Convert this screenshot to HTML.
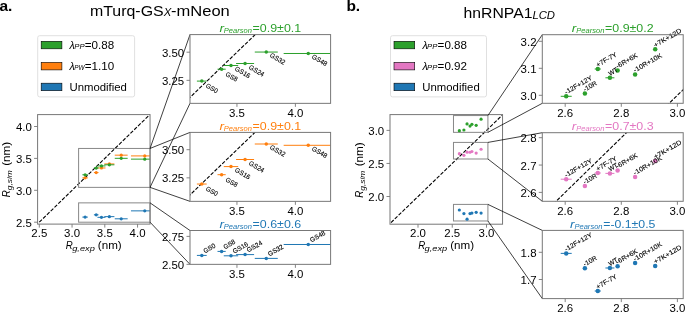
<!DOCTYPE html>
<html><head><meta charset="utf-8"><style>
html,body{margin:0;padding:0;background:#fff;width:685px;height:312px;overflow:hidden;}
svg{display:block;will-change:transform;}
text{font-family:"Liberation Sans", sans-serif;}
</style></head><body>
<svg width="685" height="312" viewBox="0 0 685 312">
<rect width="685" height="312" fill="#fff"/>
<text x="-0.60" y="10.90" font-size="15.50" fill="#000" font-weight="bold">a.</text>
<text x="90.00" y="15.80" font-size="14.50" fill="#000" textLength="73.60" lengthAdjust="spacingAndGlyphs">mTurq-GS</text>
<text x="163.80" y="16.40" font-size="10.00" fill="#000" textLength="7.60" lengthAdjust="spacingAndGlyphs" font-style="italic">X</text>
<text x="171.00" y="15.80" font-size="14.50" fill="#000" textLength="58.80" lengthAdjust="spacingAndGlyphs">-mNeon</text>
<rect x="37.70" y="35.70" width="96.90" height="61.20" stroke="#e0e0e0" stroke-width="1" fill="#fff" rx="2"/>
<rect x="41.20" y="41.30" width="20.70" height="7.50" stroke="#000" stroke-width="0.6" fill="#2ca02c" rx="0"/>
<text x="69.60" y="48.70" font-size="10.00" fill="#000" textLength="5.20" lengthAdjust="spacingAndGlyphs" font-style="italic">λ</text>
<text x="74.30" y="49.20" font-size="7.40" fill="#000" textLength="10.30" lengthAdjust="spacingAndGlyphs" font-style="italic">PP</text>
<text x="84.80" y="48.70" font-size="10.20" fill="#000" textLength="29.40" lengthAdjust="spacingAndGlyphs">=0.88</text>
<rect x="41.20" y="62.40" width="20.70" height="7.50" stroke="#000" stroke-width="0.6" fill="#ff7f0e" rx="0"/>
<text x="69.60" y="69.80" font-size="10.00" fill="#000" textLength="5.20" lengthAdjust="spacingAndGlyphs" font-style="italic">λ</text>
<text x="74.30" y="70.30" font-size="7.40" fill="#000" textLength="10.30" lengthAdjust="spacingAndGlyphs" font-style="italic">PW</text>
<text x="84.80" y="69.80" font-size="10.20" fill="#000" textLength="29.40" lengthAdjust="spacingAndGlyphs">=1.10</text>
<rect x="41.20" y="83.20" width="20.70" height="7.50" stroke="#000" stroke-width="0.6" fill="#1f77b4" rx="0"/>
<text x="69.50" y="90.60" font-size="10.00" fill="#000" textLength="57.44" lengthAdjust="spacingAndGlyphs">Unmodified</text>
<clipPath id="cma"><rect x="37.60" y="114.60" width="112.45" height="109.50"/></clipPath>
<g clip-path="url(#cma)">
<line x1="39.30" y1="222.20" x2="153.93" y2="110.55" stroke="#000" stroke-width="1.1" stroke-dasharray="3.7 1.6" stroke-linecap="butt"/>
</g>
<rect x="78.60" y="148.45" width="71.45" height="38.92" stroke="#888" stroke-width="1" fill="none" rx="0"/>
<rect x="78.60" y="202.87" width="71.45" height="19.33" stroke="#888" stroke-width="1" fill="none" rx="0"/>
<clipPath id="cma2"><rect x="37.60" y="114.60" width="112.45" height="109.50"/></clipPath>
<g clip-path="url(#cma2)">
<line x1="82.36" y1="177.86" x2="87.85" y2="177.86" stroke="#ff7f0e" stroke-width="1.0" stroke-linecap="butt"/>
<circle cx="85.10" cy="177.86" r="1.6" fill="#ff7f0e"/>
<line x1="93.90" y1="172.56" x2="98.50" y2="172.56" stroke="#ff7f0e" stroke-width="1.0" stroke-linecap="butt"/>
<circle cx="96.20" cy="172.56" r="1.6" fill="#ff7f0e"/>
<line x1="97.43" y1="167.97" x2="105.49" y2="167.97" stroke="#ff7f0e" stroke-width="1.0" stroke-linecap="butt"/>
<circle cx="101.46" cy="167.97" r="1.6" fill="#ff7f0e"/>
<line x1="104.32" y1="163.95" x2="114.40" y2="163.95" stroke="#ff7f0e" stroke-width="1.0" stroke-linecap="butt"/>
<circle cx="109.36" cy="163.95" r="1.6" fill="#ff7f0e"/>
<line x1="114.78" y1="155.17" x2="127.67" y2="155.17" stroke="#ff7f0e" stroke-width="1.0" stroke-linecap="butt"/>
<circle cx="121.23" cy="155.17" r="1.6" fill="#ff7f0e"/>
<line x1="130.98" y1="155.91" x2="158.55" y2="155.91" stroke="#ff7f0e" stroke-width="1.0" stroke-linecap="butt"/>
<circle cx="144.76" cy="155.91" r="1.6" fill="#ff7f0e"/>
<line x1="82.36" y1="174.78" x2="87.85" y2="174.78" stroke="#2ca02c" stroke-width="1.0" stroke-linecap="butt"/>
<circle cx="85.10" cy="174.78" r="1.6" fill="#2ca02c"/>
<line x1="93.90" y1="168.03" x2="98.50" y2="168.03" stroke="#2ca02c" stroke-width="1.0" stroke-linecap="butt"/>
<circle cx="96.20" cy="168.03" r="1.6" fill="#2ca02c"/>
<line x1="97.43" y1="165.93" x2="105.49" y2="165.93" stroke="#2ca02c" stroke-width="1.0" stroke-linecap="butt"/>
<circle cx="101.46" cy="165.93" r="1.6" fill="#2ca02c"/>
<line x1="104.32" y1="164.81" x2="114.40" y2="164.81" stroke="#2ca02c" stroke-width="1.0" stroke-linecap="butt"/>
<circle cx="109.36" cy="164.81" r="1.6" fill="#2ca02c"/>
<line x1="114.78" y1="158.32" x2="127.67" y2="158.32" stroke="#2ca02c" stroke-width="1.0" stroke-linecap="butt"/>
<circle cx="121.23" cy="158.32" r="1.6" fill="#2ca02c"/>
<line x1="130.98" y1="159.13" x2="158.55" y2="159.13" stroke="#2ca02c" stroke-width="1.0" stroke-linecap="butt"/>
<circle cx="144.76" cy="159.13" r="1.6" fill="#2ca02c"/>
<line x1="82.36" y1="217.10" x2="87.85" y2="217.10" stroke="#1f77b4" stroke-width="1.0" stroke-linecap="butt"/>
<circle cx="85.10" cy="217.10" r="1.6" fill="#1f77b4"/>
<line x1="93.90" y1="214.81" x2="98.50" y2="214.81" stroke="#1f77b4" stroke-width="1.0" stroke-linecap="butt"/>
<circle cx="96.20" cy="214.81" r="1.6" fill="#1f77b4"/>
<line x1="97.43" y1="217.32" x2="105.49" y2="217.32" stroke="#1f77b4" stroke-width="1.0" stroke-linecap="butt"/>
<circle cx="101.46" cy="217.32" r="1.6" fill="#1f77b4"/>
<line x1="104.32" y1="216.64" x2="114.40" y2="216.64" stroke="#1f77b4" stroke-width="1.0" stroke-linecap="butt"/>
<circle cx="109.36" cy="216.64" r="1.6" fill="#1f77b4"/>
<line x1="114.78" y1="218.81" x2="127.67" y2="218.81" stroke="#1f77b4" stroke-width="1.0" stroke-linecap="butt"/>
<circle cx="121.23" cy="218.81" r="1.6" fill="#1f77b4"/>
<line x1="130.98" y1="210.87" x2="158.55" y2="210.87" stroke="#1f77b4" stroke-width="1.0" stroke-linecap="butt"/>
<circle cx="144.76" cy="210.87" r="1.6" fill="#1f77b4"/>
</g>
<rect x="37.60" y="114.60" width="112.45" height="109.50" stroke="#777" stroke-width="1.0" fill="none" rx="0"/>
<line x1="39.30" y1="224.10" x2="39.30" y2="227.60" stroke="#777" stroke-width="0.9" stroke-linecap="butt"/>
<text x="39.30" y="237.00" font-size="10.00" fill="#000" textLength="15.90" lengthAdjust="spacingAndGlyphs" text-anchor="middle">2.5</text>
<line x1="34.10" y1="222.20" x2="37.60" y2="222.20" stroke="#777" stroke-width="0.9" stroke-linecap="butt"/>
<text x="31.80" y="226.70" font-size="10.00" fill="#000" textLength="15.90" lengthAdjust="spacingAndGlyphs" text-anchor="end">2.5</text>
<line x1="72.05" y1="224.10" x2="72.05" y2="227.60" stroke="#777" stroke-width="0.9" stroke-linecap="butt"/>
<text x="72.05" y="237.00" font-size="10.00" fill="#000" textLength="15.90" lengthAdjust="spacingAndGlyphs" text-anchor="middle">3.0</text>
<line x1="34.10" y1="190.30" x2="37.60" y2="190.30" stroke="#777" stroke-width="0.9" stroke-linecap="butt"/>
<text x="31.80" y="194.80" font-size="10.00" fill="#000" textLength="15.90" lengthAdjust="spacingAndGlyphs" text-anchor="end">3.0</text>
<line x1="104.80" y1="224.10" x2="104.80" y2="227.60" stroke="#777" stroke-width="0.9" stroke-linecap="butt"/>
<text x="104.80" y="237.00" font-size="10.00" fill="#000" textLength="15.90" lengthAdjust="spacingAndGlyphs" text-anchor="middle">3.5</text>
<line x1="34.10" y1="158.40" x2="37.60" y2="158.40" stroke="#777" stroke-width="0.9" stroke-linecap="butt"/>
<text x="31.80" y="162.90" font-size="10.00" fill="#000" textLength="15.90" lengthAdjust="spacingAndGlyphs" text-anchor="end">3.5</text>
<line x1="137.55" y1="224.10" x2="137.55" y2="227.60" stroke="#777" stroke-width="0.9" stroke-linecap="butt"/>
<text x="137.55" y="237.00" font-size="10.00" fill="#000" textLength="15.90" lengthAdjust="spacingAndGlyphs" text-anchor="middle">4.0</text>
<line x1="34.10" y1="126.50" x2="37.60" y2="126.50" stroke="#777" stroke-width="0.9" stroke-linecap="butt"/>
<text x="31.80" y="131.00" font-size="10.00" fill="#000" textLength="15.90" lengthAdjust="spacingAndGlyphs" text-anchor="end">4.0</text>
<text x="65.80" y="248.60" font-size="10.00" fill="#000" textLength="7.00" lengthAdjust="spacingAndGlyphs" font-style="italic">R</text>
<text x="72.20" y="250.60" font-size="7.40" fill="#000" textLength="22.60" lengthAdjust="spacingAndGlyphs" font-style="italic">g,exp</text>
<text x="97.80" y="248.60" font-size="10.00" fill="#000" textLength="23.90" lengthAdjust="spacingAndGlyphs">(nm)</text>
<g transform="translate(10.30,197.30) rotate(-90)">
<text x="0.00" y="0.00" font-size="10.00" fill="#000" textLength="7.00" lengthAdjust="spacingAndGlyphs" font-style="italic">R</text>
<text x="7.00" y="2.00" font-size="7.40" fill="#000" textLength="20.20" lengthAdjust="spacingAndGlyphs" font-style="italic">g,sim</text>
<text x="31.50" y="0.00" font-size="10.00" fill="#000" textLength="23.90" lengthAdjust="spacingAndGlyphs">(nm)</text>
</g>
<line x1="150.05" y1="148.45" x2="190.00" y2="34.60" stroke="#000" stroke-width="0.75" stroke-linecap="butt"/>
<line x1="150.05" y1="187.37" x2="190.00" y2="103.35" stroke="#000" stroke-width="0.75" stroke-linecap="butt"/>
<line x1="150.05" y1="148.45" x2="190.00" y2="132.40" stroke="#000" stroke-width="0.75" stroke-linecap="butt"/>
<line x1="150.05" y1="187.37" x2="190.00" y2="201.35" stroke="#000" stroke-width="0.75" stroke-linecap="butt"/>
<line x1="150.05" y1="202.87" x2="190.00" y2="230.50" stroke="#000" stroke-width="0.75" stroke-linecap="butt"/>
<line x1="150.05" y1="222.20" x2="190.00" y2="264.35" stroke="#000" stroke-width="0.75" stroke-linecap="butt"/>
<rect x="190.00" y="34.60" width="140.60" height="68.75" stroke="none" stroke-width="1" fill="#fff" rx="0"/>
<clipPath id="ca1"><rect x="190.00" y="34.60" width="140.60" height="68.75"/></clipPath>
<g clip-path="url(#ca1)">
<line x1="187.85" y1="99.49" x2="257.56" y2="32.35" stroke="#000" stroke-width="1.1" stroke-dasharray="3.7 1.6" stroke-linecap="butt"/>
<line x1="196.90" y1="81.10" x2="206.70" y2="81.10" stroke="#2ca02c" stroke-width="1.0" stroke-linecap="butt"/>
<circle cx="201.80" cy="81.10" r="1.75" fill="#2ca02c"/>
<line x1="217.50" y1="69.20" x2="225.70" y2="69.20" stroke="#2ca02c" stroke-width="1.0" stroke-linecap="butt"/>
<circle cx="221.60" cy="69.20" r="1.75" fill="#2ca02c"/>
<line x1="223.79" y1="65.50" x2="238.19" y2="65.50" stroke="#2ca02c" stroke-width="1.0" stroke-linecap="butt"/>
<circle cx="230.99" cy="65.50" r="1.75" fill="#2ca02c"/>
<line x1="236.09" y1="63.51" x2="254.09" y2="63.51" stroke="#2ca02c" stroke-width="1.0" stroke-linecap="butt"/>
<circle cx="245.09" cy="63.51" r="1.75" fill="#2ca02c"/>
<line x1="254.77" y1="52.05" x2="277.77" y2="52.05" stroke="#2ca02c" stroke-width="1.0" stroke-linecap="butt"/>
<circle cx="266.27" cy="52.05" r="1.75" fill="#2ca02c"/>
<line x1="283.67" y1="53.49" x2="332.87" y2="53.49" stroke="#2ca02c" stroke-width="1.0" stroke-linecap="butt"/>
<circle cx="308.27" cy="53.49" r="1.75" fill="#2ca02c"/>
</g>
<text x="205.30" y="87.10" font-size="6.60" fill="#000" stroke="#000" stroke-width="0.12" textLength="12.68" lengthAdjust="spacingAndGlyphs" transform="rotate(30 205.30 87.10)">GS0</text>
<text x="225.00" y="75.50" font-size="6.60" fill="#000" stroke="#000" stroke-width="0.12" textLength="12.68" lengthAdjust="spacingAndGlyphs" transform="rotate(30 225.00 75.50)">GS8</text>
<text x="234.29" y="70.10" font-size="6.60" fill="#000" stroke="#000" stroke-width="0.12" textLength="16.63" lengthAdjust="spacingAndGlyphs" transform="rotate(30 234.29 70.10)">GS16</text>
<text x="248.29" y="68.46" font-size="6.60" fill="#000" stroke="#000" stroke-width="0.12" textLength="16.63" lengthAdjust="spacingAndGlyphs" transform="rotate(30 248.29 68.46)">GS24</text>
<text x="269.37" y="56.50" font-size="6.60" fill="#000" stroke="#000" stroke-width="0.12" textLength="16.63" lengthAdjust="spacingAndGlyphs" transform="rotate(30 269.37 56.50)">GS32</text>
<text x="311.27" y="58.09" font-size="6.60" fill="#000" stroke="#000" stroke-width="0.12" textLength="16.63" lengthAdjust="spacingAndGlyphs" transform="rotate(30 311.27 58.09)">GS48</text>
<rect x="190.00" y="34.60" width="140.60" height="68.75" stroke="#777" stroke-width="1.0" fill="none" rx="0"/>
<line x1="236.95" y1="103.35" x2="236.95" y2="106.85" stroke="#777" stroke-width="0.9" stroke-linecap="butt"/>
<text x="236.95" y="117.15" font-size="10.00" fill="#000" textLength="15.90" lengthAdjust="spacingAndGlyphs" text-anchor="middle">3.5</text>
<line x1="295.40" y1="103.35" x2="295.40" y2="106.85" stroke="#777" stroke-width="0.9" stroke-linecap="butt"/>
<text x="295.40" y="117.15" font-size="10.00" fill="#000" textLength="15.90" lengthAdjust="spacingAndGlyphs" text-anchor="middle">4.0</text>
<line x1="186.50" y1="52.20" x2="190.00" y2="52.20" stroke="#777" stroke-width="0.9" stroke-linecap="butt"/>
<text x="184.20" y="56.70" font-size="10.00" fill="#000" textLength="22.27" lengthAdjust="spacingAndGlyphs" text-anchor="end">3.50</text>
<line x1="186.50" y1="80.35" x2="190.00" y2="80.35" stroke="#777" stroke-width="0.9" stroke-linecap="butt"/>
<text x="184.20" y="84.85" font-size="10.00" fill="#000" textLength="22.27" lengthAdjust="spacingAndGlyphs" text-anchor="end">3.25</text>
<text x="219.42" y="31.70" font-size="10.00" fill="#2ca02c" textLength="4.60" lengthAdjust="spacingAndGlyphs" font-style="italic">r</text>
<text x="223.82" y="32.90" font-size="7.40" fill="#2ca02c" textLength="28.10" lengthAdjust="spacingAndGlyphs" font-style="italic">Pearson</text>
<text x="252.62" y="31.70" font-size="10.00" fill="#2ca02c" textLength="48.56" lengthAdjust="spacingAndGlyphs">=0.9±0.1</text>
<rect x="190.00" y="132.40" width="140.60" height="68.95" stroke="none" stroke-width="1" fill="#fff" rx="0"/>
<clipPath id="ca2"><rect x="190.00" y="132.40" width="140.60" height="68.95"/></clipPath>
<g clip-path="url(#ca2)">
<line x1="187.85" y1="196.99" x2="257.25" y2="130.15" stroke="#000" stroke-width="1.1" stroke-dasharray="3.7 1.6" stroke-linecap="butt"/>
<line x1="196.90" y1="184.04" x2="206.70" y2="184.04" stroke="#ff7f0e" stroke-width="1.0" stroke-linecap="butt"/>
<circle cx="201.80" cy="184.04" r="1.75" fill="#ff7f0e"/>
<line x1="217.50" y1="174.70" x2="225.70" y2="174.70" stroke="#ff7f0e" stroke-width="1.0" stroke-linecap="butt"/>
<circle cx="221.60" cy="174.70" r="1.75" fill="#ff7f0e"/>
<line x1="223.79" y1="166.59" x2="238.19" y2="166.59" stroke="#ff7f0e" stroke-width="1.0" stroke-linecap="butt"/>
<circle cx="230.99" cy="166.59" r="1.75" fill="#ff7f0e"/>
<line x1="236.09" y1="159.50" x2="254.09" y2="159.50" stroke="#ff7f0e" stroke-width="1.0" stroke-linecap="butt"/>
<circle cx="245.09" cy="159.50" r="1.75" fill="#ff7f0e"/>
<line x1="254.77" y1="144.00" x2="277.77" y2="144.00" stroke="#ff7f0e" stroke-width="1.0" stroke-linecap="butt"/>
<circle cx="266.27" cy="144.00" r="1.75" fill="#ff7f0e"/>
<line x1="283.67" y1="145.31" x2="332.87" y2="145.31" stroke="#ff7f0e" stroke-width="1.0" stroke-linecap="butt"/>
<circle cx="308.27" cy="145.31" r="1.75" fill="#ff7f0e"/>
</g>
<text x="205.30" y="190.04" font-size="6.60" fill="#000" stroke="#000" stroke-width="0.12" textLength="12.68" lengthAdjust="spacingAndGlyphs" transform="rotate(30 205.30 190.04)">GS0</text>
<text x="225.00" y="181.00" font-size="6.60" fill="#000" stroke="#000" stroke-width="0.12" textLength="12.68" lengthAdjust="spacingAndGlyphs" transform="rotate(30 225.00 181.00)">GS8</text>
<text x="234.29" y="171.19" font-size="6.60" fill="#000" stroke="#000" stroke-width="0.12" textLength="16.63" lengthAdjust="spacingAndGlyphs" transform="rotate(30 234.29 171.19)">GS16</text>
<text x="248.29" y="164.45" font-size="6.60" fill="#000" stroke="#000" stroke-width="0.12" textLength="16.63" lengthAdjust="spacingAndGlyphs" transform="rotate(30 248.29 164.45)">GS24</text>
<text x="269.37" y="148.45" font-size="6.60" fill="#000" stroke="#000" stroke-width="0.12" textLength="16.63" lengthAdjust="spacingAndGlyphs" transform="rotate(30 269.37 148.45)">GS32</text>
<text x="311.27" y="149.91" font-size="6.60" fill="#000" stroke="#000" stroke-width="0.12" textLength="16.63" lengthAdjust="spacingAndGlyphs" transform="rotate(30 311.27 149.91)">GS48</text>
<rect x="190.00" y="132.40" width="140.60" height="68.95" stroke="#777" stroke-width="1.0" fill="none" rx="0"/>
<line x1="236.95" y1="201.35" x2="236.95" y2="204.85" stroke="#777" stroke-width="0.9" stroke-linecap="butt"/>
<text x="236.95" y="215.15" font-size="10.00" fill="#000" textLength="15.90" lengthAdjust="spacingAndGlyphs" text-anchor="middle">3.5</text>
<line x1="295.40" y1="201.35" x2="295.40" y2="204.85" stroke="#777" stroke-width="0.9" stroke-linecap="butt"/>
<text x="295.40" y="215.15" font-size="10.00" fill="#000" textLength="15.90" lengthAdjust="spacingAndGlyphs" text-anchor="middle">4.0</text>
<line x1="186.50" y1="149.70" x2="190.00" y2="149.70" stroke="#777" stroke-width="0.9" stroke-linecap="butt"/>
<text x="184.20" y="154.20" font-size="10.00" fill="#000" textLength="22.27" lengthAdjust="spacingAndGlyphs" text-anchor="end">3.50</text>
<line x1="186.50" y1="177.85" x2="190.00" y2="177.85" stroke="#777" stroke-width="0.9" stroke-linecap="butt"/>
<text x="184.20" y="182.35" font-size="10.00" fill="#000" textLength="22.27" lengthAdjust="spacingAndGlyphs" text-anchor="end">3.25</text>
<text x="219.42" y="129.50" font-size="10.00" fill="#ff7f0e" textLength="4.60" lengthAdjust="spacingAndGlyphs" font-style="italic">r</text>
<text x="223.82" y="130.70" font-size="7.40" fill="#ff7f0e" textLength="28.10" lengthAdjust="spacingAndGlyphs" font-style="italic">Pearson</text>
<text x="252.62" y="129.50" font-size="10.00" fill="#ff7f0e" textLength="48.56" lengthAdjust="spacingAndGlyphs">=0.9±0.1</text>
<rect x="190.00" y="230.50" width="140.60" height="33.85" stroke="none" stroke-width="1" fill="#fff" rx="0"/>
<clipPath id="ca3"><rect x="190.00" y="230.50" width="140.60" height="33.85"/></clipPath>
<g clip-path="url(#ca3)">
<line x1="187.85" y1="199.51" x2="157.78" y2="228.26" stroke="#000" stroke-width="1.1" stroke-dasharray="3.7 1.6" stroke-linecap="butt"/>
<line x1="196.90" y1="255.41" x2="206.70" y2="255.41" stroke="#1f77b4" stroke-width="1.0" stroke-linecap="butt"/>
<circle cx="201.80" cy="255.41" r="1.75" fill="#1f77b4"/>
<line x1="217.50" y1="251.40" x2="225.70" y2="251.40" stroke="#1f77b4" stroke-width="1.0" stroke-linecap="butt"/>
<circle cx="221.60" cy="251.40" r="1.75" fill="#1f77b4"/>
<line x1="223.79" y1="255.80" x2="238.19" y2="255.80" stroke="#1f77b4" stroke-width="1.0" stroke-linecap="butt"/>
<circle cx="230.99" cy="255.80" r="1.75" fill="#1f77b4"/>
<line x1="236.09" y1="254.60" x2="254.09" y2="254.60" stroke="#1f77b4" stroke-width="1.0" stroke-linecap="butt"/>
<circle cx="245.09" cy="254.60" r="1.75" fill="#1f77b4"/>
<line x1="254.77" y1="258.40" x2="277.77" y2="258.40" stroke="#1f77b4" stroke-width="1.0" stroke-linecap="butt"/>
<circle cx="266.27" cy="258.40" r="1.75" fill="#1f77b4"/>
<line x1="283.67" y1="244.49" x2="332.87" y2="244.49" stroke="#1f77b4" stroke-width="1.0" stroke-linecap="butt"/>
<circle cx="308.27" cy="244.49" r="1.75" fill="#1f77b4"/>
</g>
<text x="205.10" y="253.41" font-size="6.60" fill="#000" stroke="#000" stroke-width="0.12" textLength="12.68" lengthAdjust="spacingAndGlyphs" transform="rotate(-30 205.10 253.41)">GS0</text>
<text x="224.90" y="249.40" font-size="6.60" fill="#000" stroke="#000" stroke-width="0.12" textLength="12.68" lengthAdjust="spacingAndGlyphs" transform="rotate(-30 224.90 249.40)">GS8</text>
<text x="234.29" y="253.80" font-size="6.60" fill="#000" stroke="#000" stroke-width="0.12" textLength="16.63" lengthAdjust="spacingAndGlyphs" transform="rotate(-30 234.29 253.80)">GS16</text>
<text x="248.39" y="252.60" font-size="6.60" fill="#000" stroke="#000" stroke-width="0.12" textLength="16.63" lengthAdjust="spacingAndGlyphs" transform="rotate(-30 248.39 252.60)">GS24</text>
<text x="269.57" y="256.40" font-size="6.60" fill="#000" stroke="#000" stroke-width="0.12" textLength="16.63" lengthAdjust="spacingAndGlyphs" transform="rotate(-30 269.57 256.40)">GS32</text>
<text x="311.57" y="242.49" font-size="6.60" fill="#000" stroke="#000" stroke-width="0.12" textLength="16.63" lengthAdjust="spacingAndGlyphs" transform="rotate(-30 311.57 242.49)">GS48</text>
<rect x="190.00" y="230.50" width="140.60" height="33.85" stroke="#777" stroke-width="1.0" fill="none" rx="0"/>
<line x1="236.95" y1="264.35" x2="236.95" y2="267.85" stroke="#777" stroke-width="0.9" stroke-linecap="butt"/>
<text x="236.95" y="278.15" font-size="10.00" fill="#000" textLength="15.90" lengthAdjust="spacingAndGlyphs" text-anchor="middle">3.5</text>
<line x1="295.40" y1="264.35" x2="295.40" y2="267.85" stroke="#777" stroke-width="0.9" stroke-linecap="butt"/>
<text x="295.40" y="278.15" font-size="10.00" fill="#000" textLength="15.90" lengthAdjust="spacingAndGlyphs" text-anchor="middle">4.0</text>
<line x1="186.50" y1="236.40" x2="190.00" y2="236.40" stroke="#777" stroke-width="0.9" stroke-linecap="butt"/>
<text x="184.20" y="240.90" font-size="10.00" fill="#000" textLength="22.27" lengthAdjust="spacingAndGlyphs" text-anchor="end">2.75</text>
<line x1="186.50" y1="264.35" x2="190.00" y2="264.35" stroke="#777" stroke-width="0.9" stroke-linecap="butt"/>
<text x="184.20" y="268.85" font-size="10.00" fill="#000" textLength="22.27" lengthAdjust="spacingAndGlyphs" text-anchor="end">2.50</text>
<text x="219.42" y="227.60" font-size="10.00" fill="#1f77b4" textLength="4.60" lengthAdjust="spacingAndGlyphs" font-style="italic">r</text>
<text x="223.82" y="228.80" font-size="7.40" fill="#1f77b4" textLength="28.10" lengthAdjust="spacingAndGlyphs" font-style="italic">Pearson</text>
<text x="252.62" y="227.60" font-size="10.00" fill="#1f77b4" textLength="48.56" lengthAdjust="spacingAndGlyphs">=0.6±0.6</text>
<text x="346.40" y="10.90" font-size="15.50" fill="#000" font-weight="bold">b.</text>
<text x="463.60" y="17.80" font-size="14.50" fill="#000" textLength="68.80" lengthAdjust="spacingAndGlyphs">hnRNPA1</text>
<text x="532.40" y="19.20" font-size="10.20" fill="#000" textLength="22.60" lengthAdjust="spacingAndGlyphs" font-style="italic">LCD</text>
<rect x="390.50" y="35.70" width="96.00" height="61.20" stroke="#e0e0e0" stroke-width="1" fill="#fff" rx="2"/>
<rect x="394.00" y="41.30" width="20.70" height="7.50" stroke="#000" stroke-width="0.6" fill="#2ca02c" rx="0"/>
<text x="422.40" y="48.70" font-size="10.00" fill="#000" textLength="5.20" lengthAdjust="spacingAndGlyphs" font-style="italic">λ</text>
<text x="427.10" y="49.20" font-size="7.40" fill="#000" textLength="10.30" lengthAdjust="spacingAndGlyphs" font-style="italic">PP</text>
<text x="437.60" y="48.70" font-size="10.20" fill="#000" textLength="29.40" lengthAdjust="spacingAndGlyphs">=0.88</text>
<rect x="394.00" y="62.40" width="20.70" height="7.50" stroke="#000" stroke-width="0.6" fill="#e377c2" rx="0"/>
<text x="422.40" y="69.80" font-size="10.00" fill="#000" textLength="5.20" lengthAdjust="spacingAndGlyphs" font-style="italic">λ</text>
<text x="427.10" y="70.30" font-size="7.40" fill="#000" textLength="10.30" lengthAdjust="spacingAndGlyphs" font-style="italic">PP</text>
<text x="437.60" y="69.80" font-size="10.20" fill="#000" textLength="29.40" lengthAdjust="spacingAndGlyphs">=0.92</text>
<rect x="394.00" y="83.20" width="20.70" height="7.50" stroke="#000" stroke-width="0.6" fill="#1f77b4" rx="0"/>
<text x="422.30" y="90.60" font-size="10.00" fill="#000" textLength="57.44" lengthAdjust="spacingAndGlyphs">Unmodified</text>
<clipPath id="cmb"><rect x="390.00" y="114.60" width="112.55" height="109.60"/></clipPath>
<g clip-path="url(#cmb)">
<line x1="387.18" y1="226.25" x2="507.05" y2="110.57" stroke="#000" stroke-width="1.1" stroke-dasharray="3.7 1.6" stroke-linecap="butt"/>
</g>
<rect x="453.48" y="115.56" width="34.43" height="16.79" stroke="#888" stroke-width="1" fill="none" rx="0"/>
<rect x="453.48" y="142.41" width="34.43" height="16.58" stroke="#888" stroke-width="1" fill="none" rx="0"/>
<rect x="453.48" y="204.40" width="34.43" height="16.57" stroke="#888" stroke-width="1" fill="none" rx="0"/>
<circle cx="459.35" cy="130.64" r="1.6" fill="#2ca02c"/>
<circle cx="463.91" cy="129.98" r="1.6" fill="#2ca02c"/>
<circle cx="467.06" cy="123.96" r="1.6" fill="#2ca02c"/>
<circle cx="470.02" cy="126.12" r="1.6" fill="#2ca02c"/>
<circle cx="471.90" cy="124.31" r="1.6" fill="#2ca02c"/>
<circle cx="476.17" cy="125.28" r="1.6" fill="#2ca02c"/>
<circle cx="481.08" cy="119.14" r="1.6" fill="#2ca02c"/>
<circle cx="459.35" cy="153.65" r="1.6" fill="#e377c2"/>
<circle cx="463.91" cy="155.32" r="1.6" fill="#e377c2"/>
<circle cx="467.06" cy="152.15" r="1.6" fill="#e377c2"/>
<circle cx="470.02" cy="152.25" r="1.6" fill="#e377c2"/>
<circle cx="471.90" cy="151.52" r="1.6" fill="#e377c2"/>
<circle cx="476.17" cy="153.12" r="1.6" fill="#e377c2"/>
<circle cx="481.08" cy="149.23" r="1.6" fill="#e377c2"/>
<circle cx="459.35" cy="209.98" r="1.6" fill="#1f77b4"/>
<circle cx="463.91" cy="213.61" r="1.6" fill="#1f77b4"/>
<circle cx="467.06" cy="219.13" r="1.6" fill="#1f77b4"/>
<circle cx="470.02" cy="213.53" r="1.6" fill="#1f77b4"/>
<circle cx="471.90" cy="213.10" r="1.6" fill="#1f77b4"/>
<circle cx="476.17" cy="212.34" r="1.6" fill="#1f77b4"/>
<circle cx="481.08" cy="213.03" r="1.6" fill="#1f77b4"/>
<rect x="390.00" y="114.60" width="112.55" height="109.60" stroke="#777" stroke-width="1.0" fill="none" rx="0"/>
<line x1="418.00" y1="224.20" x2="418.00" y2="227.70" stroke="#777" stroke-width="0.9" stroke-linecap="butt"/>
<text x="418.00" y="237.10" font-size="10.00" fill="#000" textLength="15.90" lengthAdjust="spacingAndGlyphs" text-anchor="middle">2.0</text>
<line x1="386.50" y1="196.50" x2="390.00" y2="196.50" stroke="#777" stroke-width="0.9" stroke-linecap="butt"/>
<text x="384.20" y="201.00" font-size="10.00" fill="#000" textLength="15.90" lengthAdjust="spacingAndGlyphs" text-anchor="end">2.0</text>
<line x1="452.25" y1="224.20" x2="452.25" y2="227.70" stroke="#777" stroke-width="0.9" stroke-linecap="butt"/>
<text x="452.25" y="237.10" font-size="10.00" fill="#000" textLength="15.90" lengthAdjust="spacingAndGlyphs" text-anchor="middle">2.5</text>
<line x1="386.50" y1="163.45" x2="390.00" y2="163.45" stroke="#777" stroke-width="0.9" stroke-linecap="butt"/>
<text x="384.20" y="167.95" font-size="10.00" fill="#000" textLength="15.90" lengthAdjust="spacingAndGlyphs" text-anchor="end">2.5</text>
<line x1="486.50" y1="224.20" x2="486.50" y2="227.70" stroke="#777" stroke-width="0.9" stroke-linecap="butt"/>
<text x="486.50" y="237.10" font-size="10.00" fill="#000" textLength="15.90" lengthAdjust="spacingAndGlyphs" text-anchor="middle">3.0</text>
<line x1="386.50" y1="130.40" x2="390.00" y2="130.40" stroke="#777" stroke-width="0.9" stroke-linecap="butt"/>
<text x="384.20" y="134.90" font-size="10.00" fill="#000" textLength="15.90" lengthAdjust="spacingAndGlyphs" text-anchor="end">3.0</text>
<text x="418.20" y="248.80" font-size="10.00" fill="#000" textLength="7.00" lengthAdjust="spacingAndGlyphs" font-style="italic">R</text>
<text x="424.60" y="250.80" font-size="7.40" fill="#000" textLength="22.60" lengthAdjust="spacingAndGlyphs" font-style="italic">g,exp</text>
<text x="450.20" y="248.80" font-size="10.00" fill="#000" textLength="23.90" lengthAdjust="spacingAndGlyphs">(nm)</text>
<g transform="translate(363.30,197.80) rotate(-90)">
<text x="0.00" y="0.00" font-size="10.00" fill="#000" textLength="7.00" lengthAdjust="spacingAndGlyphs" font-style="italic">R</text>
<text x="7.00" y="2.00" font-size="7.40" fill="#000" textLength="20.20" lengthAdjust="spacingAndGlyphs" font-style="italic">g,sim</text>
<text x="31.50" y="0.00" font-size="10.00" fill="#000" textLength="23.90" lengthAdjust="spacingAndGlyphs">(nm)</text>
</g>
<line x1="487.92" y1="115.56" x2="542.30" y2="34.70" stroke="#000" stroke-width="0.75" stroke-linecap="butt"/>
<line x1="487.92" y1="132.36" x2="542.30" y2="103.30" stroke="#000" stroke-width="0.75" stroke-linecap="butt"/>
<line x1="487.92" y1="142.41" x2="542.30" y2="132.70" stroke="#000" stroke-width="0.75" stroke-linecap="butt"/>
<line x1="487.92" y1="158.99" x2="542.30" y2="201.30" stroke="#000" stroke-width="0.75" stroke-linecap="butt"/>
<line x1="487.92" y1="204.40" x2="542.30" y2="230.40" stroke="#000" stroke-width="0.75" stroke-linecap="butt"/>
<line x1="487.92" y1="220.97" x2="542.30" y2="298.60" stroke="#000" stroke-width="0.75" stroke-linecap="butt"/>
<rect x="542.30" y="34.70" width="140.90" height="68.60" stroke="none" stroke-width="1" fill="#fff" rx="0"/>
<clipPath id="cb1"><rect x="542.30" y="34.70" width="140.90" height="68.60"/></clipPath>
<g clip-path="url(#cb1)">
<line x1="666.28" y1="106.00" x2="686.01" y2="87.01" stroke="#000" stroke-width="1.1" stroke-dasharray="3.7 1.6" stroke-linecap="butt"/>
<line x1="560.71" y1="96.30" x2="571.71" y2="96.30" stroke="#2ca02c" stroke-width="1.0" stroke-linecap="butt"/>
<circle cx="566.21" cy="96.30" r="2.25" fill="#2ca02c"/>
<circle cx="584.89" cy="93.60" r="2.25" fill="#2ca02c"/>
<line x1="594.71" y1="69.00" x2="600.88" y2="69.00" stroke="#2ca02c" stroke-width="1.0" stroke-linecap="butt"/>
<circle cx="597.79" cy="69.00" r="2.25" fill="#2ca02c"/>
<line x1="605.42" y1="77.80" x2="614.40" y2="77.80" stroke="#2ca02c" stroke-width="1.0" stroke-linecap="butt"/>
<circle cx="609.91" cy="77.80" r="2.25" fill="#2ca02c"/>
<circle cx="617.60" cy="70.41" r="2.25" fill="#2ca02c"/>
<circle cx="635.10" cy="74.40" r="2.25" fill="#2ca02c"/>
<circle cx="655.21" cy="49.29" r="2.25" fill="#2ca02c"/>
</g>
<text x="566.21" y="94.50" font-size="6.60" fill="#000" stroke="#000" stroke-width="0.12" textLength="30.56" lengthAdjust="spacingAndGlyphs" transform="rotate(-30 566.21 94.50)">-12F+12Y</text>
<text x="584.89" y="91.80" font-size="6.60" fill="#000" stroke="#000" stroke-width="0.12" textLength="14.43" lengthAdjust="spacingAndGlyphs" transform="rotate(-30 584.89 91.80)">-10R</text>
<text x="597.79" y="67.20" font-size="6.60" fill="#000" stroke="#000" stroke-width="0.12" textLength="22.67" lengthAdjust="spacingAndGlyphs" transform="rotate(-30 597.79 67.20)">+7F-7Y</text>
<text x="609.91" y="76.00" font-size="6.60" fill="#000" stroke="#000" stroke-width="0.12" textLength="9.92" lengthAdjust="spacingAndGlyphs" transform="rotate(-30 609.91 76.00)">WT</text>
<text x="617.60" y="68.61" font-size="6.60" fill="#000" stroke="#000" stroke-width="0.12" textLength="23.70" lengthAdjust="spacingAndGlyphs" transform="rotate(-30 617.60 68.61)">-6R+6K</text>
<text x="635.10" y="72.60" font-size="6.60" fill="#000" stroke="#000" stroke-width="0.12" textLength="31.58" lengthAdjust="spacingAndGlyphs" transform="rotate(-30 635.10 72.60)">-10R+10K</text>
<text x="655.21" y="47.49" font-size="6.60" fill="#000" stroke="#000" stroke-width="0.12" textLength="31.06" lengthAdjust="spacingAndGlyphs" transform="rotate(-30 655.21 47.49)">+7K+12D</text>
<rect x="542.30" y="34.70" width="140.90" height="68.60" stroke="#777" stroke-width="1.0" fill="none" rx="0"/>
<line x1="565.20" y1="103.30" x2="565.20" y2="106.80" stroke="#777" stroke-width="0.9" stroke-linecap="butt"/>
<text x="565.20" y="117.10" font-size="10.00" fill="#000" textLength="15.90" lengthAdjust="spacingAndGlyphs" text-anchor="middle">2.6</text>
<line x1="621.30" y1="103.30" x2="621.30" y2="106.80" stroke="#777" stroke-width="0.9" stroke-linecap="butt"/>
<text x="621.30" y="117.10" font-size="10.00" fill="#000" textLength="15.90" lengthAdjust="spacingAndGlyphs" text-anchor="middle">2.8</text>
<line x1="677.40" y1="103.30" x2="677.40" y2="106.80" stroke="#777" stroke-width="0.9" stroke-linecap="butt"/>
<text x="677.40" y="117.10" font-size="10.00" fill="#000" textLength="15.90" lengthAdjust="spacingAndGlyphs" text-anchor="middle">3.0</text>
<line x1="538.80" y1="41.30" x2="542.30" y2="41.30" stroke="#777" stroke-width="0.9" stroke-linecap="butt"/>
<text x="536.50" y="45.80" font-size="10.00" fill="#000" textLength="15.90" lengthAdjust="spacingAndGlyphs" text-anchor="end">3.2</text>
<line x1="538.80" y1="68.30" x2="542.30" y2="68.30" stroke="#777" stroke-width="0.9" stroke-linecap="butt"/>
<text x="536.50" y="72.80" font-size="10.00" fill="#000" textLength="15.90" lengthAdjust="spacingAndGlyphs" text-anchor="end">3.1</text>
<line x1="538.80" y1="95.30" x2="542.30" y2="95.30" stroke="#777" stroke-width="0.9" stroke-linecap="butt"/>
<text x="536.50" y="99.80" font-size="10.00" fill="#000" textLength="15.90" lengthAdjust="spacingAndGlyphs" text-anchor="end">3.0</text>
<text x="571.87" y="31.80" font-size="10.00" fill="#2ca02c" textLength="4.60" lengthAdjust="spacingAndGlyphs" font-style="italic">r</text>
<text x="576.27" y="33.00" font-size="7.40" fill="#2ca02c" textLength="28.10" lengthAdjust="spacingAndGlyphs" font-style="italic">Pearson</text>
<text x="605.07" y="31.80" font-size="10.00" fill="#2ca02c" textLength="48.56" lengthAdjust="spacingAndGlyphs">=0.9±0.2</text>
<rect x="542.30" y="132.70" width="140.90" height="68.60" stroke="none" stroke-width="1" fill="#fff" rx="0"/>
<clipPath id="cb2"><rect x="542.30" y="132.70" width="140.90" height="68.60"/></clipPath>
<g clip-path="url(#cb2)">
<line x1="553.27" y1="204.03" x2="629.23" y2="129.97" stroke="#000" stroke-width="1.1" stroke-dasharray="3.7 1.6" stroke-linecap="butt"/>
<line x1="560.71" y1="179.19" x2="571.71" y2="179.19" stroke="#e377c2" stroke-width="1.0" stroke-linecap="butt"/>
<circle cx="566.21" cy="179.19" r="2.25" fill="#e377c2"/>
<circle cx="584.89" cy="186.11" r="2.25" fill="#e377c2"/>
<line x1="594.71" y1="173.01" x2="600.88" y2="173.01" stroke="#e377c2" stroke-width="1.0" stroke-linecap="butt"/>
<circle cx="597.79" cy="173.01" r="2.25" fill="#e377c2"/>
<line x1="605.42" y1="173.39" x2="614.40" y2="173.39" stroke="#e377c2" stroke-width="1.0" stroke-linecap="butt"/>
<circle cx="609.91" cy="173.39" r="2.25" fill="#e377c2"/>
<circle cx="617.60" cy="170.38" r="2.25" fill="#e377c2"/>
<circle cx="635.10" cy="177.00" r="2.25" fill="#e377c2"/>
<circle cx="655.21" cy="160.89" r="2.25" fill="#e377c2"/>
</g>
<text x="566.21" y="177.39" font-size="6.60" fill="#000" stroke="#000" stroke-width="0.12" textLength="30.56" lengthAdjust="spacingAndGlyphs" transform="rotate(-30 566.21 177.39)">-12F+12Y</text>
<text x="584.89" y="184.31" font-size="6.60" fill="#000" stroke="#000" stroke-width="0.12" textLength="14.43" lengthAdjust="spacingAndGlyphs" transform="rotate(-30 584.89 184.31)">-10R</text>
<text x="597.79" y="171.21" font-size="6.60" fill="#000" stroke="#000" stroke-width="0.12" textLength="22.67" lengthAdjust="spacingAndGlyphs" transform="rotate(-30 597.79 171.21)">+7F-7Y</text>
<text x="609.91" y="171.59" font-size="6.60" fill="#000" stroke="#000" stroke-width="0.12" textLength="9.92" lengthAdjust="spacingAndGlyphs" transform="rotate(-30 609.91 171.59)">WT</text>
<text x="617.60" y="168.58" font-size="6.60" fill="#000" stroke="#000" stroke-width="0.12" textLength="23.70" lengthAdjust="spacingAndGlyphs" transform="rotate(-30 617.60 168.58)">-6R+6K</text>
<text x="635.10" y="175.20" font-size="6.60" fill="#000" stroke="#000" stroke-width="0.12" textLength="31.58" lengthAdjust="spacingAndGlyphs" transform="rotate(-30 635.10 175.20)">-10R+10K</text>
<text x="655.21" y="159.09" font-size="6.60" fill="#000" stroke="#000" stroke-width="0.12" textLength="31.06" lengthAdjust="spacingAndGlyphs" transform="rotate(-30 655.21 159.09)">+7K+12D</text>
<rect x="542.30" y="132.70" width="140.90" height="68.60" stroke="#777" stroke-width="1.0" fill="none" rx="0"/>
<line x1="565.20" y1="201.30" x2="565.20" y2="204.80" stroke="#777" stroke-width="0.9" stroke-linecap="butt"/>
<text x="565.20" y="215.10" font-size="10.00" fill="#000" textLength="15.90" lengthAdjust="spacingAndGlyphs" text-anchor="middle">2.6</text>
<line x1="621.30" y1="201.30" x2="621.30" y2="204.80" stroke="#777" stroke-width="0.9" stroke-linecap="butt"/>
<text x="621.30" y="215.10" font-size="10.00" fill="#000" textLength="15.90" lengthAdjust="spacingAndGlyphs" text-anchor="middle">2.8</text>
<line x1="677.40" y1="201.30" x2="677.40" y2="204.80" stroke="#777" stroke-width="0.9" stroke-linecap="butt"/>
<text x="677.40" y="215.10" font-size="10.00" fill="#000" textLength="15.90" lengthAdjust="spacingAndGlyphs" text-anchor="middle">3.0</text>
<line x1="538.80" y1="137.70" x2="542.30" y2="137.70" stroke="#777" stroke-width="0.9" stroke-linecap="butt"/>
<text x="536.50" y="142.20" font-size="10.00" fill="#000" textLength="15.90" lengthAdjust="spacingAndGlyphs" text-anchor="end">2.8</text>
<line x1="538.80" y1="165.05" x2="542.30" y2="165.05" stroke="#777" stroke-width="0.9" stroke-linecap="butt"/>
<text x="536.50" y="169.55" font-size="10.00" fill="#000" textLength="15.90" lengthAdjust="spacingAndGlyphs" text-anchor="end">2.7</text>
<line x1="538.80" y1="192.40" x2="542.30" y2="192.40" stroke="#777" stroke-width="0.9" stroke-linecap="butt"/>
<text x="536.50" y="196.90" font-size="10.00" fill="#000" textLength="15.90" lengthAdjust="spacingAndGlyphs" text-anchor="end">2.6</text>
<text x="571.87" y="129.80" font-size="10.00" fill="#e377c2" textLength="4.60" lengthAdjust="spacingAndGlyphs" font-style="italic">r</text>
<text x="576.27" y="131.00" font-size="7.40" fill="#e377c2" textLength="28.10" lengthAdjust="spacingAndGlyphs" font-style="italic">Pearson</text>
<text x="605.07" y="129.80" font-size="10.00" fill="#e377c2" textLength="48.56" lengthAdjust="spacingAndGlyphs">=0.7±0.3</text>
<rect x="542.30" y="230.40" width="140.90" height="68.20" stroke="none" stroke-width="1" fill="#fff" rx="0"/>
<clipPath id="cb3"><rect x="542.30" y="230.40" width="140.90" height="68.20"/></clipPath>
<g clip-path="url(#cb3)">
<line x1="560.71" y1="253.39" x2="571.71" y2="253.39" stroke="#1f77b4" stroke-width="1.0" stroke-linecap="butt"/>
<circle cx="566.21" cy="253.39" r="2.25" fill="#1f77b4"/>
<circle cx="584.89" cy="268.29" r="2.25" fill="#1f77b4"/>
<line x1="594.71" y1="291.01" x2="600.88" y2="291.01" stroke="#1f77b4" stroke-width="1.0" stroke-linecap="butt"/>
<circle cx="597.79" cy="291.01" r="2.25" fill="#1f77b4"/>
<line x1="605.42" y1="267.99" x2="614.40" y2="267.99" stroke="#1f77b4" stroke-width="1.0" stroke-linecap="butt"/>
<circle cx="609.91" cy="267.99" r="2.25" fill="#1f77b4"/>
<circle cx="617.60" cy="266.20" r="2.25" fill="#1f77b4"/>
<circle cx="635.10" cy="263.10" r="2.25" fill="#1f77b4"/>
<circle cx="655.21" cy="265.90" r="2.25" fill="#1f77b4"/>
</g>
<text x="566.21" y="251.59" font-size="6.60" fill="#000" stroke="#000" stroke-width="0.12" textLength="30.56" lengthAdjust="spacingAndGlyphs" transform="rotate(-30 566.21 251.59)">-12F+12Y</text>
<text x="584.89" y="266.49" font-size="6.60" fill="#000" stroke="#000" stroke-width="0.12" textLength="14.43" lengthAdjust="spacingAndGlyphs" transform="rotate(-30 584.89 266.49)">-10R</text>
<text x="597.79" y="289.21" font-size="6.60" fill="#000" stroke="#000" stroke-width="0.12" textLength="22.67" lengthAdjust="spacingAndGlyphs" transform="rotate(-30 597.79 289.21)">+7F-7Y</text>
<text x="609.91" y="266.19" font-size="6.60" fill="#000" stroke="#000" stroke-width="0.12" textLength="9.92" lengthAdjust="spacingAndGlyphs" transform="rotate(-30 609.91 266.19)">WT</text>
<text x="617.60" y="264.40" font-size="6.60" fill="#000" stroke="#000" stroke-width="0.12" textLength="23.70" lengthAdjust="spacingAndGlyphs" transform="rotate(-30 617.60 264.40)">-6R+6K</text>
<text x="635.10" y="261.30" font-size="6.60" fill="#000" stroke="#000" stroke-width="0.12" textLength="31.58" lengthAdjust="spacingAndGlyphs" transform="rotate(-30 635.10 261.30)">-10R+10K</text>
<text x="655.21" y="264.10" font-size="6.60" fill="#000" stroke="#000" stroke-width="0.12" textLength="31.06" lengthAdjust="spacingAndGlyphs" transform="rotate(-30 655.21 264.10)">+7K+12D</text>
<rect x="542.30" y="230.40" width="140.90" height="68.20" stroke="#777" stroke-width="1.0" fill="none" rx="0"/>
<line x1="565.20" y1="298.60" x2="565.20" y2="302.10" stroke="#777" stroke-width="0.9" stroke-linecap="butt"/>
<text x="565.20" y="312.40" font-size="10.00" fill="#000" textLength="15.90" lengthAdjust="spacingAndGlyphs" text-anchor="middle">2.6</text>
<line x1="621.30" y1="298.60" x2="621.30" y2="302.10" stroke="#777" stroke-width="0.9" stroke-linecap="butt"/>
<text x="621.30" y="312.40" font-size="10.00" fill="#000" textLength="15.90" lengthAdjust="spacingAndGlyphs" text-anchor="middle">2.8</text>
<line x1="677.40" y1="298.60" x2="677.40" y2="302.10" stroke="#777" stroke-width="0.9" stroke-linecap="butt"/>
<text x="677.40" y="312.40" font-size="10.00" fill="#000" textLength="15.90" lengthAdjust="spacingAndGlyphs" text-anchor="middle">3.0</text>
<line x1="538.80" y1="252.30" x2="542.30" y2="252.30" stroke="#777" stroke-width="0.9" stroke-linecap="butt"/>
<text x="536.50" y="256.80" font-size="10.00" fill="#000" textLength="15.90" lengthAdjust="spacingAndGlyphs" text-anchor="end">1.8</text>
<line x1="538.80" y1="279.50" x2="542.30" y2="279.50" stroke="#777" stroke-width="0.9" stroke-linecap="butt"/>
<text x="536.50" y="284.00" font-size="10.00" fill="#000" textLength="15.90" lengthAdjust="spacingAndGlyphs" text-anchor="end">1.7</text>
<text x="570.06" y="227.50" font-size="10.00" fill="#1f77b4" textLength="4.60" lengthAdjust="spacingAndGlyphs" font-style="italic">r</text>
<text x="574.46" y="228.70" font-size="7.40" fill="#1f77b4" textLength="28.10" lengthAdjust="spacingAndGlyphs" font-style="italic">Pearson</text>
<text x="603.26" y="227.50" font-size="10.00" fill="#1f77b4" textLength="52.17" lengthAdjust="spacingAndGlyphs">=-0.1±0.5</text>
</svg>
</body></html>
